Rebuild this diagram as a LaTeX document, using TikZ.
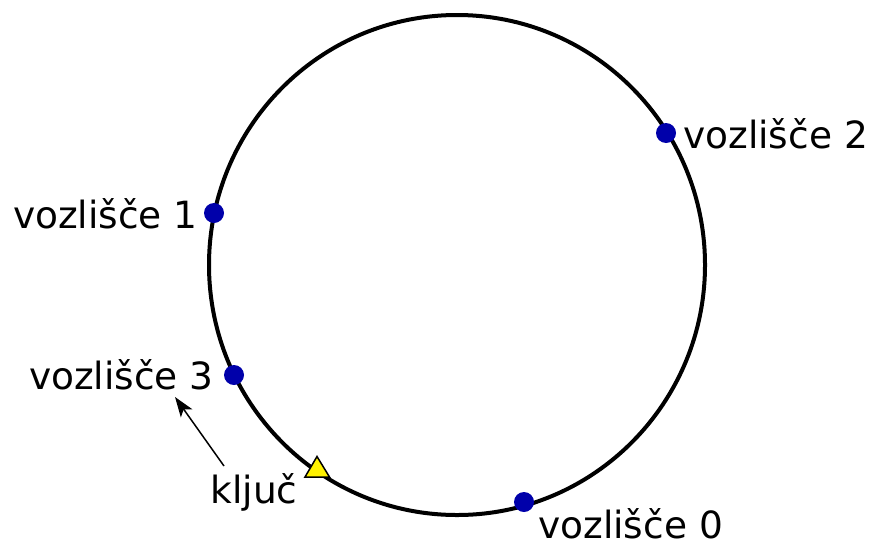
\documentclass[tikz,border=0pt]{standalone}
\usepackage{fontspec}
\setmainfont{DejaVu Sans}
\usetikzlibrary{arrows.meta}
\definecolor{dotblue}{RGB}{0,0,170}
\begin{document}
\begin{tikzpicture}[x=1pt,y=-1pt,
  ring/.style={line width=4pt},
  dot/.style={circle,fill=dotblue,inner sep=0pt,minimum size=20pt},
  lab/.style={font=\fontsize{37.5}{44}\selectfont,inner sep=0pt},
  keytri/.style={fill=yellow,draw=black,line width=1.5pt,line join=miter}]
\useasboundingbox (0,0) rectangle (874,544);
\coordinate (c) at (457,265);
\draw[ring] (c) circle[x radius=248pt,y radius=250pt];
\node[dot] (n2) at (666,133) {};
\node[dot] (n1) at (214,213) {};
\node[dot] (n3) at (234,375) {};
\node[dot] (n0) at (524,502) {};
\node[lab,anchor=west] (l2) at (683,134) {vozlišče 2};
\node[lab,anchor=east] (l1) at (198,214) {vozlišče 1};
\node[lab,anchor=east] (l3) at (214,375) {vozlišče 3};
\node[lab,anchor=west] (l0) at (538,524) {vozlišče 0};
\draw[keytri] (305,477) -- (329.5,477) -- (317,456.5) -- cycle;
\coordinate (tri) at (317,470);
\node[lab] (key) at (254,492) {ključ};
\coordinate (kstart) at (224,466);
\coordinate (kend) at (175,397);
\draw[line width=1.5pt,-{Stealth[length=20pt,width=14pt,inset=5pt]}] (kstart) -- (kend);
\end{tikzpicture}
\end{document}
